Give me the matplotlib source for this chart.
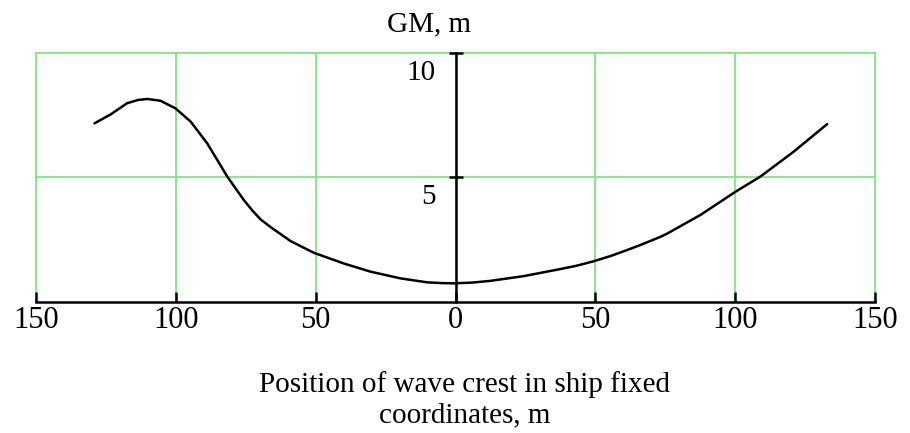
import numpy as np
import matplotlib
matplotlib.use("Agg")
import matplotlib.pyplot as plt

# GM curve: crest position (m) and GM (m)
crest_pos = [-129.1, -123.3, -117.4, -113.5, -110.2, -105.5, -100.1, -94.7, -88.8,
             -81.6, -75.7, -72.5, -69.7, -66.1, -59.0, -50.7, -40.0, -30.4, -19.7, -10.1,
             -5.0, -0.6, 6.0, 12.5, 24.4, 36.4, 43.0, 49.5, 55.5, 61.4, 66.1, 73.3, 75.7,
             87.6, 100.1, 109.0, 120.9, 132.9]
gm = [7.16, 7.52, 7.97, 8.10, 8.14, 8.07, 7.76, 7.23, 6.36,
      5.02, 4.08, 3.64, 3.30, 2.99, 2.43, 1.96, 1.53, 1.20, 0.93, 0.77,
      0.74, 0.73, 0.76, 0.83, 1.02, 1.28, 1.43, 1.62, 1.83, 2.07, 2.27, 2.60, 2.73,
      3.48, 4.41, 5.02, 6.02, 7.13]

x_ticks = [-150, -100, -50, 0, 50, 100, 150]
x_tick_labels = [str(abs(t)) for t in x_ticks]
y_ticks = [5, 10]
y_tick_labels = ["5", "10"]

GREEN = "#80e680"
FONT = "Liberation Serif"

fig = plt.figure(figsize=(9.1, 4.33), dpi=100)
W, H = 910, 433
ax = fig.add_axes([36 / W, (H - 301.5) / H, 839 / W, (301.5 - 52.7) / H])
ax.set_xlim(-150, 150)
ax.set_ylim(0, 10)

# green grid and frame
ax.set_axisbelow(True)
for xv in x_ticks:
    ax.axvline(xv, color=GREEN, lw=1.3, zorder=0, clip_on=False)
for yv in y_ticks:
    ax.axhline(yv, color=GREEN, lw=1.3, zorder=0, clip_on=False)
for s in ["top", "right"]:
    ax.spines[s].set_visible(False)

# black axes crossing at zero
ax.spines["left"].set_position(("data", 0))
ax.spines["left"].set_linewidth(1.8)
ax.spines["bottom"].set_linewidth(1.8)
ax.spines["left"].set_zorder(3)
ax.spines["bottom"].set_zorder(3)

ax.plot(crest_pos, gm, color="black", lw=1.8, zorder=4,
        solid_joinstyle="round", solid_capstyle="round")

ax.set_xticks(x_ticks)
ax.set_xticklabels(x_tick_labels, fontfamily=FONT, fontsize=22)
ax.tick_params(axis="x", direction="in", length=7, width=1.8, pad=3, colors="black")

ax.set_yticks(y_ticks)
ax.set_yticklabels([])
ax.tick_params(axis="y", direction="inout", length=10, width=1.8)
for yv, lab in zip(y_ticks, y_tick_labels):
    ax.annotate(lab, xy=(0, yv), xytext=(-14.4, -14.4), textcoords="offset points",
                ha="right", va="center", fontfamily=FONT, fontsize=21)

fig.text(429 / W, 1 - 24 / H, "GM, m", ha="center", va="center",
         fontfamily=FONT, fontsize=21)
fig.text(465 / W, 1 - 400 / H, "Position of wave crest in ship fixed\ncoordinates, m",
         ha="center", va="center", fontfamily=FONT, fontsize=21, linespacing=1.2)

fig.savefig("out.png", dpi=100)
